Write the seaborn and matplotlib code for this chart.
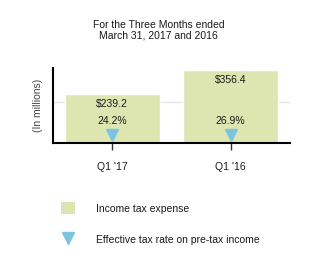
import matplotlib
matplotlib.use("Agg")
import matplotlib.pyplot as plt
import seaborn as sns
import pandas as pd
from matplotlib.patches import Patch
from matplotlib.lines import Line2D

categories = ["Q1 '17", "Q1 '16"]
tax_expense = [239.2, 356.4]
tax_rate = [24.2, 26.9]
expense_labels = ["$239.2", "$356.4"]
rate_labels = ["24.2%", "26.9%"]

BAR = "#dde6b0"
TRI = "#7cc4e0"
TXT = "#1a1a1a"
FS = 7.5

sns.set_theme(style="white")
plt.rcParams["font.family"] = ["Liberation Sans", "DejaVu Sans"]

df = pd.DataFrame({"cat": categories, "val": tax_expense})

fig = plt.figure(figsize=(3.17, 2.66), dpi=100)
ax = fig.add_axes([53/317, 1-143/266, 237/317, 75/266])

sns.barplot(data=df, x="cat", y="val", color=BAR, saturation=1, width=0.8, ax=ax, zorder=2)
ax.set_xlim(-0.5, 1.5)
ax.set_ylim(0, 366)
ax.set_yticks([200])
ax.set_yticklabels([])
ax.tick_params(axis="y", length=0)
ax.yaxis.grid(True, color="#e6e6e6", linewidth=1, zorder=0)
ax.set_axisbelow(True)

for s in ["top", "right"]:
    ax.spines[s].set_visible(False)
for s in ["left", "bottom"]:
    ax.spines[s].set_color("black")
    ax.spines[s].set_linewidth(1.5)

ax.tick_params(axis="x", bottom=True, length=5, width=1, color="#333333", pad=9,
               labelsize=FS, labelcolor=TXT)
ax.set_xlabel("")
ax.set_ylabel("(In millions)", fontsize=FS, color="#444444", labelpad=4)

for i, (v, el, rl) in enumerate(zip(tax_expense, expense_labels, rate_labels)):
    ax.text(i, v - 47, el, ha="center", va="center", fontsize=FS, color=TXT)
    ax.text(i, 106, rl, ha="center", va="center", fontsize=FS, color=TXT)
ax.plot(range(len(categories)), [39, 39], linestyle="none", marker="v",
        markersize=9, color=TRI, zorder=3)

fig.text(0.5, 1-25/266, "For the Three Months ended", ha="center", va="center",
         fontsize=FS, color=TXT)
fig.text(0.5, 1-36/266, "March 31, 2017 and 2016", ha="center", va="center",
         fontsize=FS, color=TXT)

handles = [Patch(facecolor=BAR, edgecolor="none"),
           Line2D([], [], linestyle="none", marker="v", markersize=9, color=TRI)]
labels = ["Income tax expense", "Effective tax rate on pre-tax income"]
fig.legend(handles, labels, loc="upper left", bbox_to_anchor=(52/317, 1-193/266),
           frameon=False, fontsize=FS, handlelength=1.3, handleheight=1.3,
           handletextpad=2.0, labelspacing=1.9, labelcolor=TXT)

fig.savefig("out.png", dpi=100)
